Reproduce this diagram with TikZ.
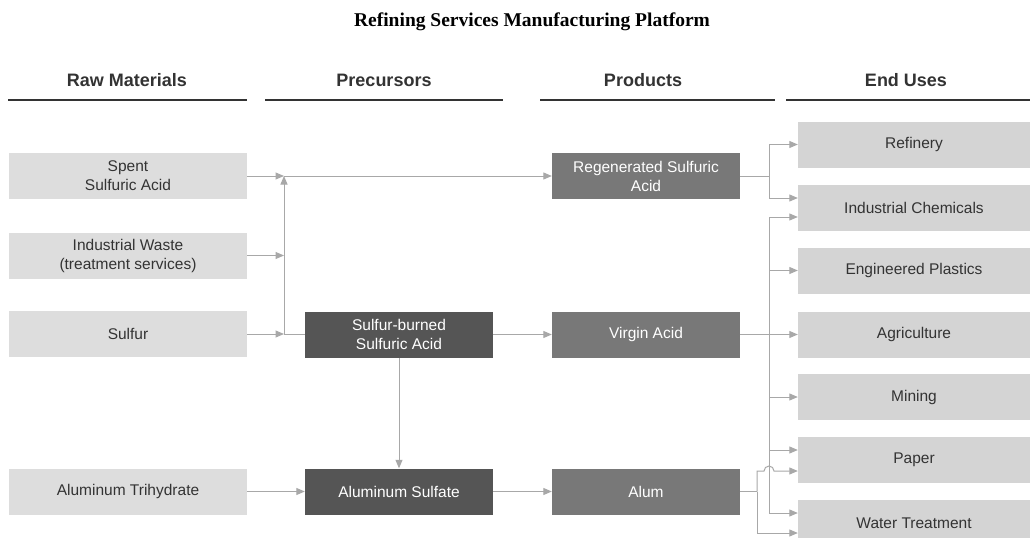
\documentclass[tikz,border=0pt]{standalone}
\usepackage{fontspec}
\setmainfont{Liberation Sans}
\newfontfamily\titlefont{Liberation Serif}
\usetikzlibrary{arrows.meta}

\definecolor{rawgray}{RGB}{221,221,221}
\definecolor{usegray}{RGB}{212,212,212}
\definecolor{pregray}{RGB}{85,85,85}
\definecolor{prodgray}{RGB}{120,120,120}
\definecolor{linkgray}{RGB}{168,168,168}
\definecolor{textgray}{RGB}{51,51,51}

\tikzset{
  box/.style={inner sep=0pt, minimum height=46pt, align=center,
    font=\fontsize{15.5}{19}\selectfont},
  rawbox/.style={box, fill=rawgray, text=textgray, minimum width=238pt},
  prebox/.style={box, fill=pregray, text=white, minimum width=188pt},
  prodbox/.style={box, fill=prodgray, text=white, minimum width=188pt},
  usebox/.style={box, fill=usegray, text=textgray, minimum width=232pt},
  head/.style={font=\fontsize{18}{20}\selectfont\bfseries, text=textgray},
  link/.style={draw=linkgray, line width=1pt},
  flow/.style={link, -{Triangle[length=8.5pt, width=7pt]}}
}

\begin{document}
\begin{tikzpicture}[x=1pt, y=-1pt]
            \useasboundingbox (0, 0) rectangle (1034, 538);
            \clip (0, 0) rectangle (1034, 538);
            \fill[white] (0, 0) rectangle (1034, 538);

            \node[font=\titlefont\fontsize{19.5}{22}\selectfont\bfseries, anchor=base] (title) at (532, 27) {Refining Services Manufacturing Platform};

            % column headings
            \node[head] (H_raw) at (127, 80) {Raw Materials};
            \node[head] (H_pre) at (384, 80) {Precursors};
            \node[head] (H_prod) at (643, 80) {Products};
            \node[head] (H_use) at (906, 80) {End Uses};
            \draw[line width=1.3pt, textgray] (8, 100) -- (247, 100);
            \draw[line width=1.3pt, textgray] (265, 100) -- (503, 100);
            \draw[line width=1.3pt, textgray] (540, 100) -- (775, 100);
            \draw[line width=1.3pt, textgray] (786, 100) -- (1030, 100);

            \node[rawbox] (spent) at (128, 176) {Spent\\Sulfuric Acid};
            \node[rawbox] (waste) at (128, 255.5) {Industrial Waste\\(treatment services)};
            \node[rawbox] (sulfur) at (128, 334) {Sulfur};
            \node[rawbox] (ath) at (128, 491.5) {Aluminum Trihydrate};

            \node[prebox] (sba) at (399, 334.5) {Sulfur-burned\\Sulfuric Acid};
            \node[prebox] (als) at (399, 491.5) {Aluminum Sulfate};

            \node[prodbox] (regen) at (646, 176) {Regenerated Sulfuric\\Acid};
            \node[prodbox] (virgin) at (646, 334.5) {Virgin Acid};
            \node[prodbox] (alum) at (646, 491.5) {Alum};

            \node[usebox] (refinery) at (914, 144.5) {Refinery};
            \node[usebox] (indchem) at (914, 207.5) {Industrial Chemicals};
            \node[usebox] (plastics) at (914, 270.5) {Engineered Plastics};
            \node[usebox] (agri) at (914, 334.5) {Agriculture};
            \node[usebox] (mining) at (914, 397) {Mining};
            \node[usebox] (paper) at (914, 460) {Paper};
            \node[usebox] (water) at (914, 523) {Water Treatment};

            % left junctions
            \coordinate (J_top) at (284, 176);
            \coordinate (J_bot) at (284, 334);
            \draw[flow] (spent) to (J_top);
            \draw[flow] (waste.east) to (waste.east -| J_top);
            \draw[flow] (sulfur) to (J_bot);
            \draw[flow] (J_bot) to (J_top);
            \draw[link] (J_bot) to (J_bot -| sba.west);
            \draw[flow] (J_top) to (regen);

            \draw[flow] (sba) to (als);
            \draw[flow] (ath) to (als);
            \draw[flow] (sba) to (virgin);
            \draw[flow] (als) to (alum);

            % right side
            \coordinate (R_fork) at (769, 176);
            \draw[link] (regen) to (R_fork);
            \draw[flow] (R_fork) |- (refinery);
            \draw[flow] (R_fork) |- ([yshift=9.5pt]indchem.west);

            \coordinate (bus_top) at (769, 217);
            \coordinate (bus_bot) at (769, 513);
            \draw[link] (bus_top) to (bus_bot);
            \draw[flow] (bus_top) to ([yshift=-9.5pt]indchem.west);
            \draw[flow] (plastics.west -| bus_top) to (plastics);
            \draw[flow] (virgin) to (agri);
            \draw[flow] (mining.west -| bus_top) to (mining);
            \draw[flow] ([yshift=10pt]paper.west -| bus_top) to ([yshift=10pt]paper.west);
            \draw[flow] (bus_bot) to ([yshift=10pt]water.west);

            \coordinate (A_fork) at (757, 491.5);
            \draw[link] (alum) to (A_fork);
            \draw[flow] (A_fork) |- (764, 471) arc[start angle=180, end angle=0, radius=5pt] -- ([yshift=-11pt]paper.west);
            \draw[flow] (A_fork) |- ([yshift=-10pt]water.west);
          \end{tikzpicture}
\end{document}
